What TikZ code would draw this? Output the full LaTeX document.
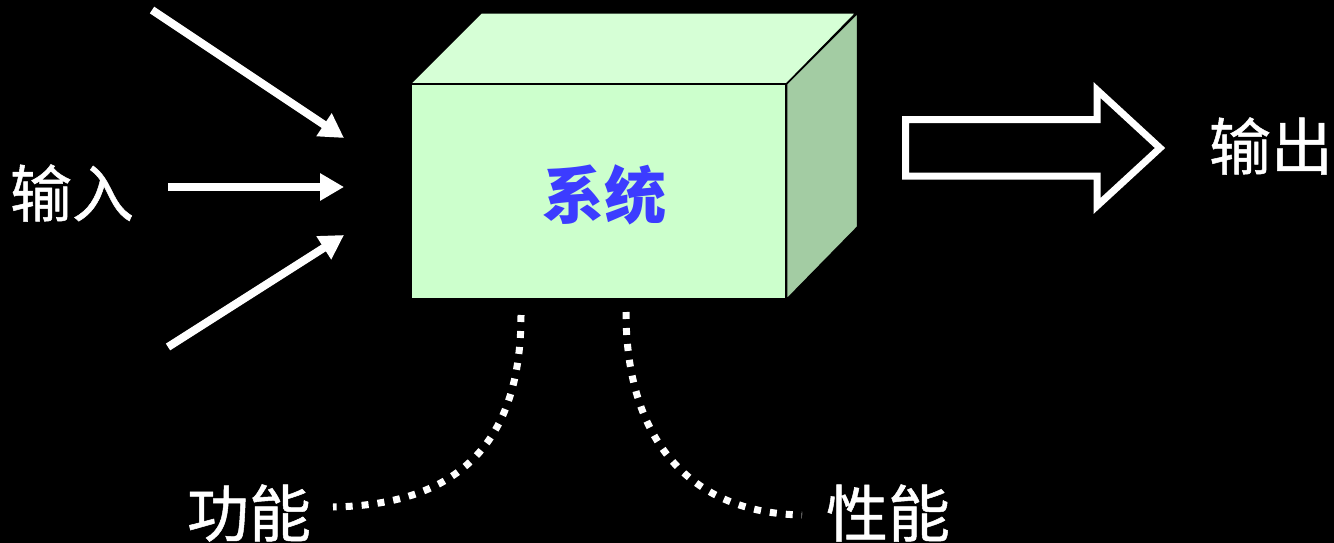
\documentclass[tikz,border=0pt]{standalone}
\usepackage{fontspec}
\newfontfamily\cjk{Noto Sans CJK SC}
\newfontfamily\cjkm[FakeBold=0.8]{Noto Sans CJK SC}
\usetikzlibrary{arrows.meta}
\definecolor{frontc}{RGB}{204,255,204}
\definecolor{topc}{RGB}{214,255,214}
\definecolor{sidec}{RGB}{163,204,163}
\definecolor{sysblue}{RGB}{60,60,255}
\begin{document}
\begin{tikzpicture}[x=1pt,y=-1pt,
  lbl/.style={text=white,inner sep=0pt,font=\cjkm\fontsize{62}{64}\selectfont},
  inarrow/.style={draw=white,line width=8pt,-{Triangle[length=24pt,width=26pt]}},
  dotline/.style={draw=white,line width=7pt,dash pattern=on 7pt off 9pt},
  face/.style={draw=black,line width=1.5pt}]
\fill[black] (0,0) rectangle (1334,543);
\useasboundingbox (0,0) rectangle (1334,543);
% box
\node[face,fill=frontc,minimum width=375pt,minimum height=214pt,inner sep=0pt,anchor=north west] (box) at (410,84) {};
\filldraw[face,fill=topc] (box.north west) -- ++(71,-71) -- ++(375,0) -- (box.north east) -- cycle;
\filldraw[face,fill=sidec] (box.north east) -- ++(71,-71) -- ++(0,214) -- (box.south east) -- cycle;
\node[inner sep=0pt,text=sysblue,font=\cjk\bfseries\fontsize{62}{64}\selectfont] (sys) at (604,195) {系统};
% labels
\node[lbl] (in) at (72,193) {输入};
\node[lbl] (out) at (1271,146) {输出};
\node[lbl] (gn) at (249,513) {功能};
\node[lbl] (xn) at (888,513) {性能};
% input arrows
\coordinate (a1s) at (152,10);  \coordinate (a1e) at (344,138);
\coordinate (a2s) at (168,187); \coordinate (a2e) at (344,187);
\coordinate (a3s) at (168,347); \coordinate (a3e) at (344,235);
\draw[inarrow] (a1s) -- (a1e);
\draw[inarrow] (a2s) -- (a2e);
\draw[inarrow] (a3s) -- (a3e);
% output hollow arrow
\draw[draw=white,line width=7pt,miter limit=10,fill=black]
  (905.5,119.5) -- (1097,119.5) -- (1097,90) -- (1160,148) -- (1097,206) -- (1097,176) -- (905.5,176) -- cycle;
% dotted curves
\coordinate (d1s) at (521,315); \coordinate (d1e) at (333,507);
\coordinate (d2s) at (626,312); \coordinate (d2e) at (802,515);
\draw[dotline] (d1s) .. controls (521,460) and (440,505) .. (d1e);
\draw[dotline] (d2s) .. controls (626,440) and (690,513) .. (d2e);
\end{tikzpicture}
\end{document}
